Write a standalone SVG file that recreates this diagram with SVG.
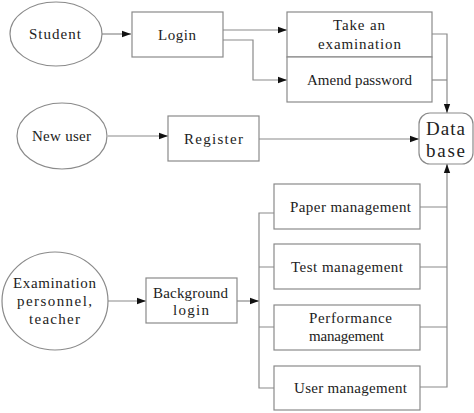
<svg xmlns="http://www.w3.org/2000/svg" width="474" height="413" viewBox="0 0 474 413">
<style>
.s{fill:#fff;stroke:#8a8a8a;stroke-width:1.2}
.c{fill:none;stroke:#8a8a8a;stroke-width:1.2}
text{font-family:"Liberation Serif","DejaVu Serif",serif;font-size:15px;fill:#222;text-anchor:middle;dominant-baseline:central}
.big{font-size:19px}
</style>
<defs>
<marker id="a" viewBox="0 0 10 10" refX="10" refY="5" markerWidth="9" markerHeight="9" markerUnits="userSpaceOnUse" orient="auto"><path d="M0,1.5L10,5L0,8.5z" fill="#111"/></marker>
</defs>
<g id="connectors">
<path class="c" d="M102,34H131" marker-end="url(#a)"/>
<path class="c" d="M223,30H287" marker-end="url(#a)"/>
<path class="c" d="M223,40H253V80H287" marker-end="url(#a)"/>
<path class="c" d="M432,34H447V113" marker-end="url(#a)"/>
<path class="c" d="M432,80H447"/>
<path class="c" d="M108,136H168" marker-end="url(#a)"/>
<path class="c" d="M259,139H419" marker-end="url(#a)"/>
<path class="c" d="M107,301H146" marker-end="url(#a)"/>
<path class="c" d="M237,301H259" marker-end="url(#a)"/>
<path class="c" d="M274,213H259V388H274M259,267H274M259,327H274"/>
<path class="c" d="M420,207H447M420,267H447M420,327H447M420,387H447V164" marker-end="url(#a)"/>
</g>
<g id="student"><ellipse class="s" cx="56" cy="34" rx="46" ry="32"/><text x="55" y="34" textLength="52" lengthAdjust="spacing">Student</text></g>
<g id="login"><rect class="s" x="132" y="12" width="91" height="45"/><text x="177" y="35" textLength="38" lengthAdjust="spacing">Login</text></g>
<g id="take-exam"><rect class="s" x="287" y="12" width="145" height="45"/><text x="359" y="25" textLength="52" lengthAdjust="spacing">Take an</text><text x="359.5" y="44" textLength="83" lengthAdjust="spacing">examination</text></g>
<g id="amend-password"><rect class="s" x="287" y="57" width="145" height="45"/><text x="359.5" y="80" textLength="105" lengthAdjust="spacing">Amend password</text></g>
<g id="new-user"><ellipse class="s" cx="62" cy="136" rx="45" ry="33"/><text x="61.5" y="136" textLength="59" lengthAdjust="spacing">New user</text></g>
<g id="register"><rect class="s" x="168" y="116" width="91" height="45"/><text x="213.5" y="139" textLength="59" lengthAdjust="spacing">Register</text></g>
<g id="database"><rect class="s" x="419" y="113" width="54" height="51" rx="11"/><text class="big" x="445.5" y="128" textLength="39" lengthAdjust="spacing">Data</text><text class="big" x="445.5" y="150" textLength="39" lengthAdjust="spacing">base</text></g>
<g id="examination-personnel"><ellipse class="s" cx="55" cy="301" rx="53" ry="49"/><text x="54.5" y="283" textLength="83" lengthAdjust="spacing">Examination</text><text x="54.5" y="301" textLength="75" lengthAdjust="spacing">personnel,</text><text x="54.5" y="319" textLength="51" lengthAdjust="spacing">teacher</text></g>
<g id="background-login"><rect class="s" x="146" y="278" width="91" height="45"/><text x="190.5" y="293" textLength="75" lengthAdjust="spacing">Background</text><text x="191" y="310" textLength="36" lengthAdjust="spacing">login</text></g>
<g id="paper-management"><rect class="s" x="274" y="184" width="146" height="45"/><text x="350.5" y="207" textLength="121" lengthAdjust="spacing">Paper management</text></g>
<g id="test-management"><rect class="s" x="274" y="244" width="146" height="45"/><text x="347" y="267" textLength="112" lengthAdjust="spacing">Test management</text></g>
<g id="performance-management"><rect class="s" x="274" y="305" width="146" height="45"/><text x="350.5" y="318" textLength="83" lengthAdjust="spacing">Performance</text><text x="346.5" y="336" textLength="75" lengthAdjust="spacing">management</text></g>
<g id="user-management"><rect class="s" x="274" y="366" width="146" height="44"/><text x="350.5" y="388" textLength="113" lengthAdjust="spacing">User management</text></g>
</svg>
